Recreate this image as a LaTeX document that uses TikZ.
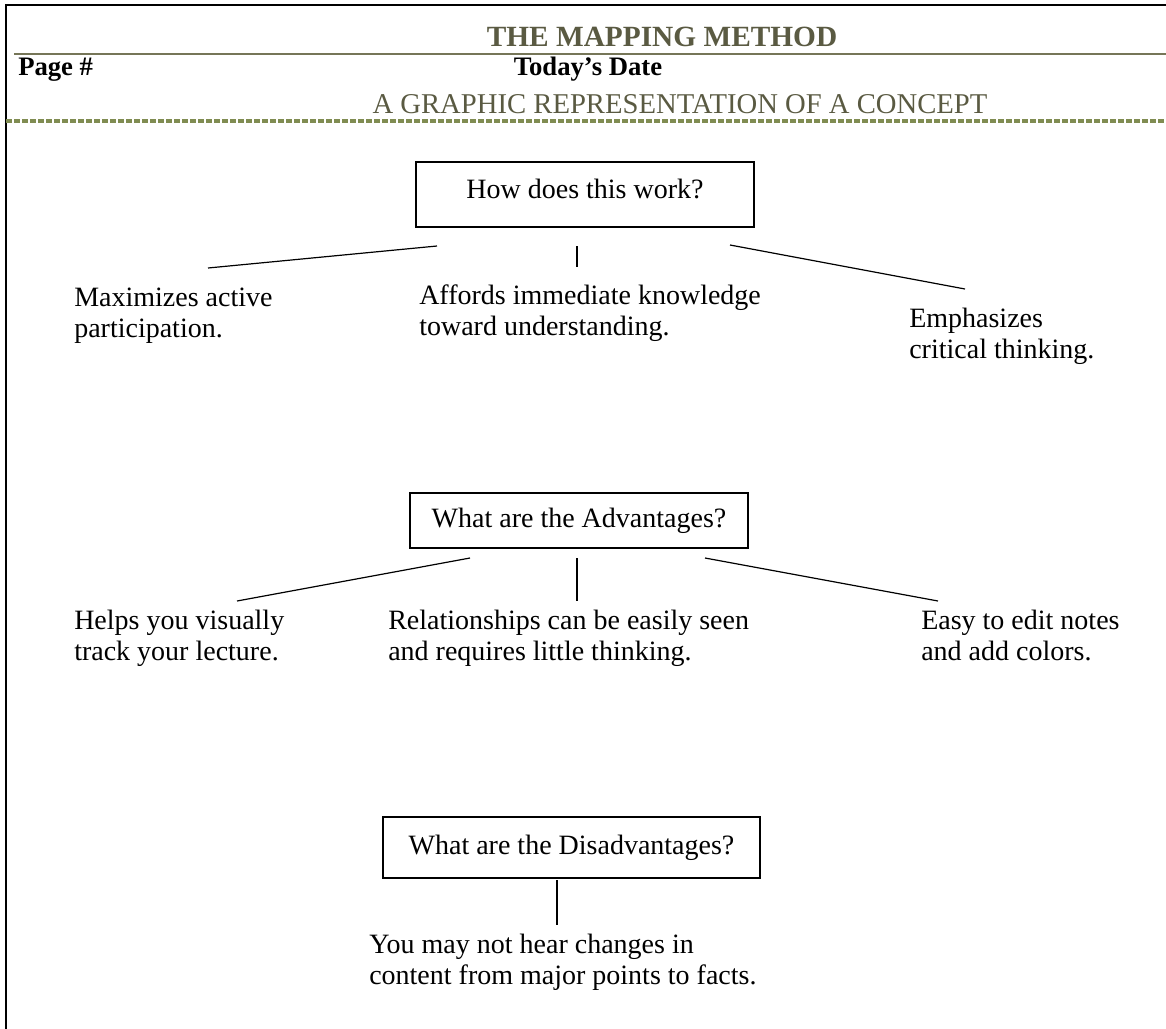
\documentclass[tikz,border=0pt]{standalone}
\usepackage{fontspec}
\setmainfont{Liberation Serif}
\usepackage{xcolor}
\usepackage{tikz}
\definecolor{titleolive}{RGB}{90,90,66}
\definecolor{ruleolive}{RGB}{118,118,88}
\definecolor{dashgreen}{RGB}{128,140,82}

\begin{document}
\begin{tikzpicture}[x=0.75pt,y=0.75pt,yscale=-1,xscale=1,
    every node/.style={inner sep=0.75pt,font=\fontsize{21}{23.25}\selectfont},
    qbox/.style={draw,line width=1pt,inner sep=0pt},
    hdr/.style={font=\fontsize{20}{24}\selectfont\bfseries},
    link/.style={line width=0.9pt}]
        \useasboundingbox (0,0) rectangle (1166,1028);
        \draw [line width=1.6pt] (6,1032) -- (6,5) -- (1170,5) ;
        % header
        \node [anchor=base,text=titleolive,font=\fontsize{22}{26}\selectfont\bfseries] (title) at (662,46) {THE MAPPING METHOD};
        \draw [ruleolive,line width=1.8pt] (14,54) -- (1170,54) ;
        \node [anchor=base west,hdr] (pagenum) at (17,75) {Page \#};
        \node [anchor=base,hdr] (date) at (588,75) {Today’s Date};
        \node [anchor=base,text=titleolive,font=\fontsize{21.5}{24}\selectfont] (subtitle) at (680,113) {A GRAPHIC REPRESENTATION OF A CONCEPT};
        \draw [dashgreen,line width=2.6pt,dash pattern=on 4.5pt off 1.5pt] (6,121) -- (1170,121) ;
        % how does this work
        \node [qbox,minimum width=253.5pt,minimum height=48.75pt,text depth=9pt] (how) at (585,194.5) {How does this work?};
        \node [anchor=north west,align=left] (maxim) at (73,287) {Maximizes active\\participation.};
        \node [anchor=north west,align=left] (afford) at (418,284) {Affords immediate knowledge\\toward understanding.};
        \node [anchor=north west,align=left] (emph) at (908,307) {Emphasizes\\critical thinking.};
        \coordinate (howL) at (437,246);
        \coordinate (howM) at (577,246);
        \coordinate (howR) at (730,245);
        \coordinate (maximT) at (208,268);
        \coordinate (affordT) at (577,267);
        \coordinate (emphT) at (965,289);
        \draw [link] (howL) -- (maximT) ;
        \draw [link] (howM) -- (affordT) ;
        \draw [link] (howR) -- (emphT) ;
        % advantages
        \node [qbox,minimum width=253.5pt,minimum height=41.25pt] (adv) at (579,520.5) {What are the Advantages?};
        \node [anchor=north west,align=left] (helps) at (73,609) {Helps you visually\\track your lecture.};
        \node [anchor=north west,align=left] (relat) at (387,609) {Relationships can be easily seen\\and requires little thinking.};
        \node [anchor=north west,align=left] (easy) at (920,609) {Easy to edit notes\\and add colors.};
        \coordinate (advL) at (470,558);
        \coordinate (advM) at (577,558);
        \coordinate (advR) at (705,558);
        \coordinate (helpsT) at (237,601);
        \coordinate (relatT) at (577,601);
        \coordinate (easyT) at (938,601);
        \draw [link] (advL) -- (helpsT) ;
        \draw [link] (advM) -- (relatT) ;
        \draw [link] (advR) -- (easyT) ;
        % disadvantages
        \node [qbox,minimum width=282.75pt,minimum height=45.75pt] (disadv) at (571.5,847.5) {What are the Disadvantages?};
        \node [anchor=north west,align=left] (hear) at (368,933) {You may not hear changes in\\content from major points to facts.};
        \coordinate (disadvB) at (557,880);
        \coordinate (hearT) at (557,925);
        \draw [link] (disadvB) -- (hearT) ;
    \end{tikzpicture}
\end{document}
